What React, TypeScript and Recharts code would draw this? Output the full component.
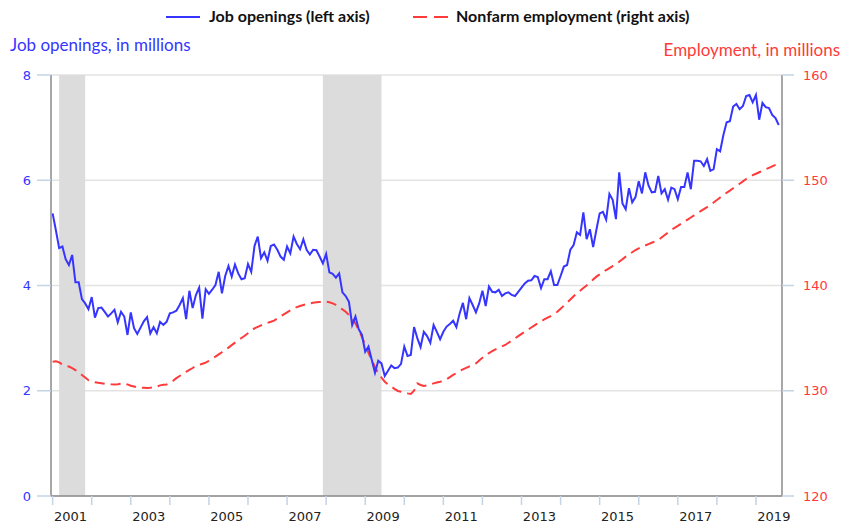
import React from "react";
import {
  LineChart,
  Line,
  XAxis,
  YAxis,
  CartesianGrid,
  ReferenceArea,
} from "recharts";

// months counted from Jan 2001 (0) to Aug 2019 (223)
const years = [
  2001, 2002, 2003, 2004, 2005, 2006, 2007, 2008, 2009, 2010,
  2011, 2012, 2013, 2014, 2015, 2016, 2017, 2018, 2019,
];

// job openings, millions, monthly
const jobOpenings = [
  // 2001
  5.37, 5.05, 4.71, 4.74, 4.5, 4.39, 4.58, 4.06, 4.06, 3.74, 3.66, 3.55,
  // 2002
  3.78, 3.39, 3.57, 3.58, 3.5, 3.41, 3.47, 3.54, 3.3, 3.5, 3.41, 3.06,
  // 2003
  3.49, 3.19, 3.08, 3.2, 3.32, 3.4, 3.09, 3.21, 3.09, 3.31, 3.25, 3.31,
  // 2004
  3.47, 3.49, 3.52, 3.63, 3.76, 3.36, 3.9, 3.57, 3.82, 3.96, 3.37, 3.93,
  // 2005
  3.84, 3.92, 4.01, 4.26, 3.85, 4.18, 4.37, 4.17, 4.4, 4.23, 4.12, 4.14,
  // 2006
  4.41, 4.26, 4.75, 4.93, 4.52, 4.63, 4.47, 4.75, 4.78, 4.68, 4.55, 4.49,
  // 2007
  4.74, 4.61, 4.93, 4.79, 4.69, 4.88, 4.68, 4.59, 4.68, 4.67, 4.55, 4.42,
  // 2008
  4.6, 4.25, 4.22, 4.15, 4.23, 3.87, 3.8, 3.69, 3.25, 3.41, 3.17, 3.06,
  // 2009
  2.74, 2.84, 2.59, 2.34, 2.57, 2.52, 2.28, 2.38, 2.48, 2.43, 2.44, 2.51,
  // 2010
  2.84, 2.66, 2.68, 3.21, 3.0, 2.83, 3.12, 3.04, 2.91, 3.25, 3.12, 2.98,
  // 2011
  3.12, 3.22, 3.27, 3.33, 3.21, 3.47, 3.67, 3.36, 3.76, 3.63, 3.49, 3.66,
  // 2012
  3.9, 3.61, 3.98, 3.88, 3.87, 3.92, 3.8, 3.85, 3.87, 3.82, 3.8, 3.88,
  // 2013
  3.96, 4.04, 4.09, 4.1, 4.18, 4.16, 3.95, 4.12, 4.12, 4.27, 4.01, 4.01,
  // 2014
  4.18, 4.36, 4.39, 4.68, 4.77, 5.01, 4.96, 5.39, 4.88, 5.07, 4.73, 5.06,
  // 2015
  5.37, 5.4, 5.25, 5.74, 5.63, 5.26, 6.15, 5.56, 5.45, 5.85, 5.58, 5.68,
  // 2016
  5.98, 5.75, 6.15, 5.9, 5.77, 5.78, 6.08, 5.75, 5.83, 5.63, 5.86, 5.83,
  // 2017
  5.64, 5.87, 5.87, 6.15, 5.83, 6.37, 6.37, 6.36, 6.27, 6.4, 6.18, 6.21,
  // 2018
  6.59, 6.55, 6.86, 7.1, 7.12, 7.4, 7.45, 7.35, 7.41, 7.6, 7.62, 7.48,
  // 2019
  7.62, 7.15, 7.47, 7.39, 7.37, 7.24, 7.18, 7.05,
];

// nonfarm employment, millions, monthly
const employment = [
  // 2001
  132.76, 132.8, 132.7, 132.5, 132.38, 132.3, 132.15, 131.97, 131.75, 131.5, 131.25, 131.0,
  // 2002
  130.9, 130.8, 130.75, 130.72, 130.67, 130.65, 130.62, 130.6, 130.62, 130.66, 130.7, 130.6,
  // 2003
  130.48, 130.4, 130.32, 130.29, 130.28, 130.27, 130.29, 130.33, 130.4, 130.51, 130.56, 130.6,
  // 2004
  130.75, 130.95, 131.2, 131.4, 131.6, 131.8, 131.98, 132.16, 132.35, 132.45, 132.56, 132.67,
  // 2005
  132.85, 133.05, 133.24, 133.45, 133.66, 133.87, 134.1, 134.33, 134.57, 134.8, 135.01, 135.23,
  // 2006
  135.46, 135.7, 135.93, 136.07, 136.21, 136.34, 136.45, 136.55, 136.66, 136.86, 137.06, 137.26,
  // 2007
  137.45, 137.64, 137.83, 137.94, 138.05, 138.15, 138.22, 138.3, 138.37, 138.4, 138.43, 138.45,
  // 2008
  138.46, 138.4, 138.3, 138.15, 137.95, 137.73, 137.51, 137.2, 136.88, 136.4, 135.77, 135.1,
  // 2009
  134.35, 133.6, 132.92, 132.25, 131.66, 131.25, 130.86, 130.6, 130.39, 130.18, 129.98, 129.9,
  // 2010
  129.82, 129.75, 129.7, 130.0, 130.7, 130.55, 130.45, 130.5, 130.6, 130.7, 130.78, 130.85,
  // 2011
  130.93, 131.1, 131.3, 131.5, 131.68, 131.86, 132.04, 132.18, 132.32, 132.46, 132.6, 132.87,
  // 2012
  133.13, 133.4, 133.58, 133.76, 133.94, 134.08, 134.22, 134.35, 134.56, 134.77, 134.98, 135.19,
  // 2013
  135.4, 135.61, 135.81, 136.01, 136.21, 136.41, 136.6, 136.77, 136.94, 137.1, 137.3, 137.51,
  // 2014
  137.8, 138.08, 138.37, 138.67, 138.97, 139.26, 139.51, 139.76, 140.0, 140.28, 140.56, 140.84,
  // 2015
  141.05, 141.26, 141.47, 141.66, 141.85, 142.0, 142.25, 142.5, 142.74, 142.95, 143.16, 143.37,
  // 2016
  143.52, 143.66, 143.8, 143.93, 144.06, 144.19, 144.32, 144.56, 144.8, 145.03, 145.27, 145.47,
  // 2017
  145.66, 145.86, 146.06, 146.26, 146.46, 146.66, 146.86, 147.06, 147.26, 147.45, 147.65, 147.89,
  // 2018
  148.12, 148.36, 148.6, 148.81, 149.02, 149.24, 149.45, 149.67, 149.89, 150.12, 150.34, 150.48,
  // 2019
  150.62, 150.76, 150.9, 151.04, 151.18, 151.32, 151.46, 151.6,
];

// recessions, as [start month, end month]
const recessions = [
  [2, 10],
  [83, 101],
];

const leftTicks = [0, 2, 4, 6, 8];
const rightTicks = [120, 130, 140, 150, 160];

const BLUE = "#3535ff";
const RED = "#ff3a3a";
const TICKLINE = "#c5d3e6";
const tickFont = "DejaVu Sans, Verdana, sans-serif";
const titleFont = "Lato, 'Open Sans', sans-serif";

const data = jobOpenings.map((v, i) => ({ m: i, jo: v, emp: employment[i] }));

// year boundaries get a tick mark, mid-year of odd years gets a label
const xTicks: number[] = [];
years.forEach((y, i) => {
  xTicks.push(i * 12);
  if (y % 2 === 1) xTicks.push(i * 12 + 5.5);
});

const YearTick = (props: any) => {
  const { x, y, payload } = props;
  const v = payload.value;
  if (v % 12 === 0) {
    return <line x1={x} x2={x} y1={y} y2={y + 9} stroke={TICKLINE} strokeWidth={1.5} />;
  }
  const year = years[Math.floor(v / 12)];
  return (
    <text x={x} y={y + 25} textAnchor="middle" fill="#222" fontSize={13} fontFamily={tickFont}>
      {year}
    </text>
  );
};

export default function App() {
  return (
    <div style={{ position: "absolute", left: 0, top: 0, width: 841, height: 523, background: "#fff" }}>
      <LineChart width={841} height={523} data={data} margin={{ top: 75, right: 0, left: 0, bottom: 0 }}>
        <CartesianGrid vertical={false} stroke="#e3e3e3" strokeWidth={1.5} yAxisId="left" />
        {recessions.map(([a, b], i) => (
          <ReferenceArea
            key={i}
            x1={a}
            x2={b}
            yAxisId="left"
            fill="#dcdcdc"
            fillOpacity={1}
            stroke="none"
            ifOverflow="visible"
          />
        ))}
        <XAxis
          dataKey="m"
          type="number"
          domain={[-0.5, 224]}
          allowDataOverflow
          ticks={xTicks}
          interval={0}
          tick={<YearTick />}
          tickLine={false}
          tickSize={0}
          tickMargin={0}
          height={27}
          axisLine={{ stroke: "#8a8a8a", strokeWidth: 1.5 }}
        />
        <YAxis
          yAxisId="left"
          domain={[0, 8]}
          ticks={leftTicks}
          width={51}
          tickSize={14}
          tickMargin={6}
          axisLine={{ stroke: "#8a8a8a", strokeWidth: 1.5 }}
          tickLine={{ stroke: TICKLINE, strokeWidth: 1.5 }}
          tick={{ fill: BLUE, fontSize: 13, fontFamily: tickFont }}
        />
        <YAxis
          yAxisId="right"
          orientation="right"
          domain={[120, 160]}
          ticks={rightTicks}
          width={59}
          tickSize={12}
          tickMargin={9}
          axisLine={{ stroke: "#8a8a8a", strokeWidth: 1.5 }}
          tickLine={{ stroke: TICKLINE, strokeWidth: 1.5 }}
          tick={{ fill: RED, fontSize: 13, fontFamily: tickFont, textAnchor: "start" }}
        />
        <Line
          yAxisId="right"
          dataKey="emp"
          stroke={RED}
          strokeWidth={2}
          strokeDasharray="10 6"
          dot={false}
          isAnimationActive={false}
        />
        <Line
          yAxisId="left"
          dataKey="jo"
          stroke={BLUE}
          strokeWidth={2}
          dot={false}
          isAnimationActive={false}
        />
      </LineChart>

      {/* legend */}
      <svg width={841} height={32} style={{ position: "absolute", left: 0, top: 0 }}>
        <line x1={166} x2={200} y1={17} y2={17} stroke={BLUE} strokeWidth={2} />
        <text x={209} y={22} fontFamily={titleFont} fontWeight={700} fontSize={16} fill="#111">
          Job openings (left axis)
        </text>
        <line x1={413} x2={448} y1={17} y2={17} stroke={RED} strokeWidth={2} strokeDasharray="14 7" />
        <text x={456} y={22} fontFamily={titleFont} fontWeight={700} fontSize={16} fill="#111">
          Nonfarm employment (right axis)
        </text>
      </svg>

      {/* axis titles */}
      <svg width={841} height={70} style={{ position: "absolute", left: 0, top: 0 }}>
        <text x={10} y={51} fontFamily={titleFont} fontSize={17} fill={BLUE}>
          Job openings, in millions
        </text>
        <text x={840} y={56} textAnchor="end" fontFamily={titleFont} fontSize={17} fill={RED}>
          Employment, in millions
        </text>
      </svg>
    </div>
  );
}
